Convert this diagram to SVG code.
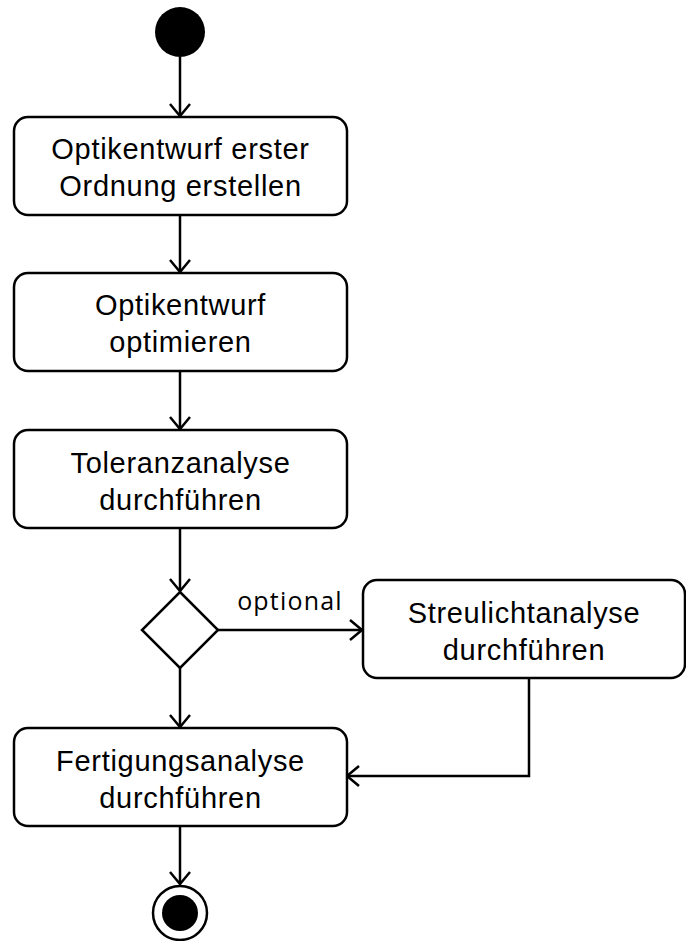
<svg xmlns="http://www.w3.org/2000/svg" width="686" height="941" viewBox="0 0 686 941">
  <style>
    .box { fill: #fff; stroke: #000; stroke-width: 2.5; }
    .lbl { font-family: "Liberation Sans", "DejaVu Sans", sans-serif; font-size: 29px; letter-spacing: 0.7px; fill: #000; text-anchor: middle; }
    .guard { font-family: "Open Sans", "Liberation Sans", sans-serif; font-size: 25px; letter-spacing: 1.2px; fill: #000; text-anchor: middle; }
    .edge { fill: none; stroke: #000; stroke-width: 2.5; marker-end: url(#open); }
  </style>
  <defs>
    <marker id="open" viewBox="-13 -11 15 22" markerWidth="15" markerHeight="22" refX="0" refY="0" orient="auto" markerUnits="userSpaceOnUse">
      <path d="M-12,-10 L0,0 L-12,10" fill="none" stroke="#000" stroke-width="2.5"/>
    </marker>
  </defs>

  <g id="connectors">
    <path class="edge" d="M180,57 V116"/>
    <path class="edge" d="M180,215 V272"/>
    <path class="edge" d="M180,371 V429"/>
    <path class="edge" d="M180,528 V591"/>
    <path class="edge" d="M218,630 H362"/>
    <path class="edge" d="M180,668 V727"/>
    <path class="edge" d="M529,678 V776 H347"/>
    <path class="edge" d="M180,826 V884"/>
  </g>

  <g id="start">
    <circle cx="180" cy="32" r="25" fill="#000"/>
  </g>

  <g id="entwurf">
    <rect class="box" x="14" y="117" width="333" height="98" rx="14"/>
    <text class="lbl" x="180.5" y="159">Optikentwurf erster</text>
    <text class="lbl" x="180.5" y="196">Ordnung erstellen</text>
  </g>

  <g id="optimieren">
    <rect class="box" x="14" y="273" width="333" height="98" rx="14"/>
    <text class="lbl" x="180.5" y="315">Optikentwurf</text>
    <text class="lbl" x="180.5" y="352">optimieren</text>
  </g>

  <g id="toleranz">
    <rect class="box" x="14" y="430" width="333" height="98" rx="14"/>
    <text class="lbl" x="180.5" y="473">Toleranzanalyse</text>
    <text class="lbl" x="180.5" y="510">durchführen</text>
  </g>

  <g id="entscheidung">
    <polygon points="180,592 218,630 180,668 142,630" fill="#fff" stroke="#000" stroke-width="2.5"/>
    <text class="guard" x="290" y="610">optional</text>
  </g>

  <g id="streulicht">
    <rect class="box" x="363" y="580" width="322" height="98" rx="14"/>
    <text class="lbl" x="524" y="623">Streulichtanalyse</text>
    <text class="lbl" x="524" y="660">durchführen</text>
  </g>

  <g id="fertigung">
    <rect class="box" x="14" y="728" width="333" height="98" rx="14"/>
    <text class="lbl" x="180.5" y="771">Fertigungsanalyse</text>
    <text class="lbl" x="180.5" y="808">durchführen</text>
  </g>

  <g id="ende">
    <circle cx="180" cy="913" r="27" fill="#fff" stroke="#000" stroke-width="2.5"/>
    <circle cx="180" cy="913" r="18" fill="#000"/>
  </g>
</svg>
